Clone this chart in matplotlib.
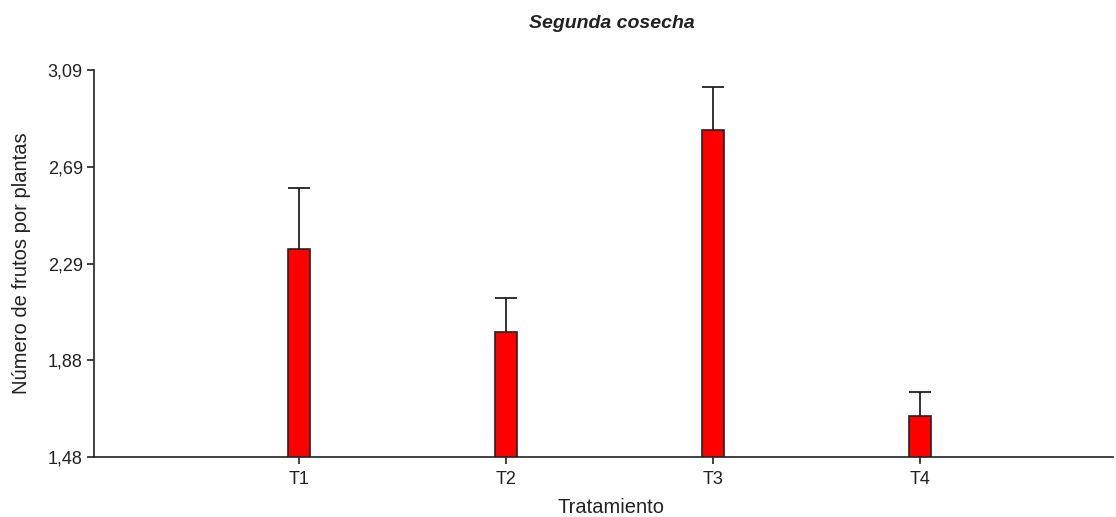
import matplotlib.pyplot as plt

plt.rcParams['font.family'] = ['Liberation Sans', 'DejaVu Sans']

tratamientos = ["T1", "T2", "T3", "T4"]
medias = [2.345, 2.00, 2.84, 1.65]
errores = [0.255, 0.14, 0.18, 0.10]
yticks = [1.48, 1.8825, 2.285, 2.6875, 3.09]
ytick_labels = ["1,48", "1,88", "2,29", "2,69", "3,09"]

fig = plt.figure(figsize=(11.16, 5.17), dpi=100)
ax = fig.add_axes([0.0842, 0.116, 0.913, 0.7486])

pos = list(range(1, len(tratamientos) + 1))
ancho = 0.106
ax.bar(pos, medias, width=ancho, color='#ff0000', edgecolor='#222222', linewidth=1.2, zorder=2)

# error bars only upward (no cap at the bar top)
tops = [m + e for m, e in zip(medias, errores)]
ax.vlines(pos, medias, tops, color='#222222', linewidth=1.3, zorder=3)
ax.hlines(tops, [p - ancho / 2 for p in pos], [p + ancho / 2 for p in pos],
          color='#222222', linewidth=1.3, zorder=3)

ax.set_xlim(0.01, 4.93)
ax.set_ylim(1.48, 3.09)
ax.set_xticks(pos)
ax.set_xticklabels(tratamientos)
ax.set_yticks(yticks)
ax.set_yticklabels(ytick_labels)

for s in ['top', 'right']:
    ax.spines[s].set_visible(False)
for s in ['left', 'bottom']:
    ax.spines[s].set_linewidth(1.2)
    ax.spines[s].set_color('#222222')
ax.tick_params(axis='both', direction='out', length=5, width=1.2, color='#222222',
               labelsize=13, labelcolor='#222222', pad=3)
ax.tick_params(axis='x', pad=5)

ax.set_xlabel("Tratamiento", fontsize=14.5, color='#222222')
ax.xaxis.set_label_coords(0.507, -0.105)
ax.set_ylabel("Número de frutos por plantas", fontsize=14.5, color='#222222', labelpad=12)
ax.set_title("Segunda cosecha", fontsize=14, fontweight='bold', fontstyle='italic',
             color='#222222', pad=30, x=0.508)

fig.savefig("out.png", dpi=100)
